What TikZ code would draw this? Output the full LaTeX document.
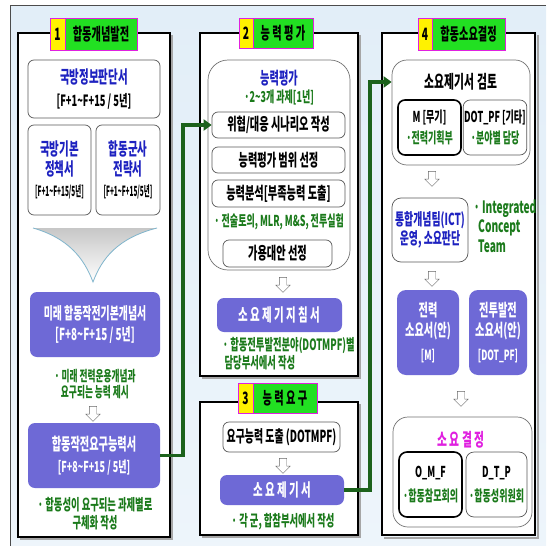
\documentclass[tikz,border=0pt]{standalone}
\usepackage{fontspec}
\setmainfont{Noto Sans CJK KR}[FakeStretch=0.6]
\newfontfamily\nar{Noto Sans CJK KR}[FakeStretch=0.46]
\usetikzlibrary{shapes.arrows,arrows.meta,calc}
\definecolor{kblue}{HTML}{1E22C0}
\definecolor{kgreen}{HTML}{1B7A1B}
\definecolor{kpurple}{HTML}{6E69D6}
\definecolor{kmag}{HTML}{E020E0}
\definecolor{tabgreen}{HTML}{22E022}
\definecolor{conngreen}{HTML}{1C621C}
\definecolor{bgblue}{HTML}{E2EEF8}
\newcommand{\fs}[1]{\fontsize{#1}{\fpeval{#1*1.15}}\selectfont}
\begin{document}
\begin{tikzpicture}[x=1pt,y=-1pt,
  panel/.style={draw=black, line width=1.8pt, fill=white, inner sep=0pt},
  wbox/.style={draw=black!65, line width=0.7pt, fill=white, rounded corners=6pt, inner sep=1pt, align=center},
  kbox/.style={wbox, draw=black, line width=1.6pt},
  pbox/.style={fill=kpurple, rounded corners=7pt, text=white, align=center, inner sep=1pt},
  gtxt/.style={text=kgreen, align=center, font=\bfseries\fs{14.5}},
  harrow/.style={single arrow, draw=black!60, fill=white, shape border rotate=270,
     minimum height=15pt, minimum width=14pt, single arrow head extend=3.5pt, inner sep=3.5pt},
  ytab/.style={fill=yellow, draw=kmag, line width=1pt, inner sep=0pt, font=\bfseries\fs{17}},
  gtab/.style={fill=tabgreen, draw=kmag, line width=1pt, inner sep=0pt, font=\bfseries\fs{17}},
  gconn/.style={draw=conngreen, line width=3.5pt, -{Triangle[length=8pt,width=11pt]}},
  bt/.style={text=kblue},
]
\useasboundingbox (0,0) rectangle (546,546);
% background
\fill[white] (0,0) rectangle (546,546);
\shade[top color=bgblue, bottom color=bgblue!60!white] (10,5) rectangle (546,546);
\draw[black!70, line width=0.8pt] (10,546) -- (10,5) -- (546,5);

% ================= Panel 1 =================
\draw[black!35, line width=1.2pt] (20,539) -- (172,539) -- (172,35);
\node[panel, minimum width=152pt, minimum height=504pt] (P1) at (94,285) {};
\node[ytab, minimum width=15pt, minimum height=32pt] (T1y) at (57.5,34) {1};
\node[gtab, minimum width=72pt, minimum height=32pt] (T1g) at (101,34) {합동개념발전};

\node[wbox, minimum width=132pt, minimum height=58pt, font=\bfseries\fs{17.5}] (B11) at (94,89)
  {\textcolor{kblue}{국방정보판단서}\\[3pt]{\fs{15.5}[F+1\textasciitilde F+15 / 5년]}};
\node[wbox, minimum width=63pt, minimum height=90pt, font=\bfseries\fs{17.5}] (B12) at (59.5,170)
  {\textcolor{kblue}{국방기본}\\[0pt]\textcolor{kblue}{정책서}\\[1pt]{\nar\fs{14}[F+1\textasciitilde F+15/5년]}};
\node[wbox, minimum width=64pt, minimum height=90pt, font=\bfseries\fs{17.5}] (B13) at (128,170)
  {\textcolor{kblue}{합동군사}\\[0pt]\textcolor{kblue}{전략서}\\[1pt]{\nar\fs{14}[F+1\textasciitilde F+15/5년]}};

% funnel
\shade[top color=black!22, bottom color=white]
  (33,228) .. controls (68,238) and (84,258) .. (93,282)
  .. controls (102,258) and (118,238) .. (157,228) -- cycle;
\draw[color=blue!30!cyan!60!black!50, line width=0.8pt]
  (33,228) .. controls (68,238) and (84,258) .. (93,282)
  .. controls (102,258) and (118,238) .. (157,228);

\node[pbox, minimum width=130pt, minimum height=65pt, font=\bfseries\fs{16.5}] (P11) at (95,324.5)
  {미래 합동작전기본개념서\\[2pt][F+8\textasciitilde F+15 / 5년]};
\node[gtxt] (G11) at (95,384) {· 미래 전력운용개념과\\요구되는 능력 제시};
\node[harrow] (A11) at (93,412) {};
\node[pbox, minimum width=132pt, minimum height=65pt, font=\bfseries\fs{17}] (P12) at (94,455.5)
  {합동작전요구능력서\\[2pt]{\fs{15}[F+8\textasciitilde F+15 / 5년]}};
\node[gtxt, font=\bfseries\fs{15.5}] (G12) at (95,514) {· 합동성이 요구되는 과제별로\\구체화 작성};

% ================= Panel 2 =================
\draw[black!35, line width=1.2pt] (202,378) -- (360,378) -- (360,35);
\node[panel, minimum width=158pt, minimum height=343pt] (P2) at (279,204.5) {};
\node[ytab, minimum width=14pt, minimum height=30pt] (T2y) at (246,33) {2};
\node[gtab, minimum width=60pt, minimum height=30pt] (T2g) at (283,33) {능 력 평 가};

\node[wbox, draw=black!55, rounded corners=20pt, minimum width=142pt, minimum height=210pt] (BIG2) at (279,165) {};
\node[bt, font=\bfseries\fs{17}] (T2a) at (279,78) {능력평가};
\node[gtxt, font=\bfseries\fs{15}] (T2b) at (279,97) {·2\textasciitilde 3개 과제[1년]};
\node[wbox, minimum width=133pt, minimum height=26pt, font=\bfseries\fs{17}] (S1) at (278.5,125) {위협/대응 시나리오 작성};
\node[wbox, minimum width=133pt, minimum height=26pt, font=\bfseries\fs{17}] (S2) at (278.5,160) {능력평가 범위 선정};
\node[wbox, minimum width=133pt, minimum height=27pt, font=\bfseries\fs{17}] (S3) at (278.5,193.5) {능력분석[부족능력 도출]};
\node[gtxt, font=\bfseries\fs{15}] (T2c) at (279,222) {· 전술토의, MLR, M\&S, 전투실험};
\node[wbox, minimum width=109pt, minimum height=27pt, font=\bfseries\fs{17}] (S4) at (277.5,253.5) {가용대안 선정};
\node[harrow] (A21) at (283,283) {};
\node[pbox, minimum width=125pt, minimum height=34pt, font=\bfseries\fs{17.5}] (P21) at (279.5,315) {소 요 제 기 지 침 서};
\node[gtxt, font=\bfseries\fs{15.5}, align=left, anchor=west] (G21) at (219,354) {· 합동전투발전분야(DOTMPF)별\\\ 담당부서에서 작성};

% ================= Panel 3 =================
\draw[black!35, line width=1.2pt] (202,537) -- (360,537) -- (360,404);
\node[panel, minimum width=158pt, minimum height=133pt] (P3) at (279,468.5) {};
\node[ytab, minimum width=15pt, minimum height=30pt] (T3y) at (245.5,398) {3};
\node[gtab, minimum width=64pt, minimum height=30pt] (T3g) at (285,398) {능 력 요 구};
\node[wbox, minimum width=117pt, minimum height=30pt, font=\bfseries\fs{16.5}] (R1) at (281.5,437) {요구능력 도출 (DOTMPF)};
\node[harrow] (A31) at (283,464) {};
\node[pbox, minimum width=124pt, minimum height=30pt, font=\bfseries\fs{17.5}] (P31) at (282,490) {소 요 제 기 서};
\node[gtxt, font=\bfseries\fs{15.5}] (G31) at (283,522) {· 각 군, 합참부서에서 작성};

% ================= Panel 4 =================
\draw[black!35, line width=1.2pt] (384,538) -- (538,538) -- (538,35);
\node[panel, minimum width=153pt, minimum height=502pt] (P4) at (458.5,284) {};
\node[ytab, minimum width=14pt, minimum height=32pt] (T4y) at (425,34) {4};
\node[gtab, minimum width=73pt, minimum height=32pt] (T4g) at (468.5,34) {합동소요결정};

\node[wbox, draw=black!55, rounded corners=15pt, minimum width=138pt, minimum height=105pt] (BIG4a) at (461,112.5) {};
\node[font=\bfseries\fs{18}] (T4a) at (461,82) {소요제기서 검토};
\node[kbox, rounded corners=7pt, minimum width=63pt, minimum height=55pt, font=\bfseries\fs{15}] (M1) at (429.5,127.5)
  {M [무기]\\[4pt]\textcolor{kgreen}{·전력기획부}};
\node[wbox, rounded corners=7pt, minimum width=62pt, minimum height=55pt, font=\bfseries\fs{15}] (M2) at (495,127.5)
  {DOT\_PF [기타]\\[4pt]\textcolor{kgreen}{·분야별 담당}};
\node[harrow] (A41) at (432,177) {};
\node[wbox, rounded corners=9pt, minimum width=76pt, minimum height=64pt, font=\bfseries\fs{16.5}, text=kblue] (ICT) at (430,230)
  {통합개념팀(ICT)\\운영, 소요판단};
\node[gtxt, font=\bfseries\fs{17}, align=left, anchor=west] (ICTn) at (470,226) {· Integrated\\\ \ Concept\\\ \ Team};
\node[harrow] (A42) at (432,277) {};
\node[pbox, rounded corners=9pt, minimum width=62pt, minimum height=85pt, font=\bfseries\fs{17}] (Q1) at (428,332.5)
  {전력\\소요서(안)\\[4pt]{\fs{14}[M]}};
\node[pbox, rounded corners=9pt, minimum width=58pt, minimum height=85pt, font=\bfseries\fs{17}] (Q2) at (498,332.5)
  {전투발전\\소요서(안)\\[4pt]{\fs{14}[DOT\_PF]}};
\node[harrow] (A43) at (461,397) {};
\node[wbox, draw=black!55, rounded corners=15pt, minimum width=139pt, minimum height=110pt] (BIG4b) at (462.5,472) {};
\node[text=kmag, font=\bfseries\fs{18}] (T4b) at (461,440) {소 요 결 정};
\node[kbox, rounded corners=8pt, minimum width=63pt, minimum height=65pt, font=\bfseries\fs{15}] (D1) at (430.5,484.5)
  {O\_M\_F\\[7pt]\textcolor{kgreen}{·합동참모회의}};
\node[wbox, rounded corners=8pt, minimum width=61pt, minimum height=65pt, font=\bfseries\fs{15}] (D2) at (496.5,484.5)
  {D\_T\_P\\[7pt]\textcolor{kgreen}{·합동성위원회}};

% ================= Connectors =================
\coordinate (J1) at (183,0);
\coordinate (J2) at (370,0);
\draw[gconn] (P12.east) -- (J1 |- P12.east) -- (J1 |- S1.west) -- (S1.west);
\draw[gconn] (P31.east) -- (J2 |- P31.east) -- (J2 |- T4a) -- (BIG4a.west |- T4a);
\end{tikzpicture}
\end{document}
